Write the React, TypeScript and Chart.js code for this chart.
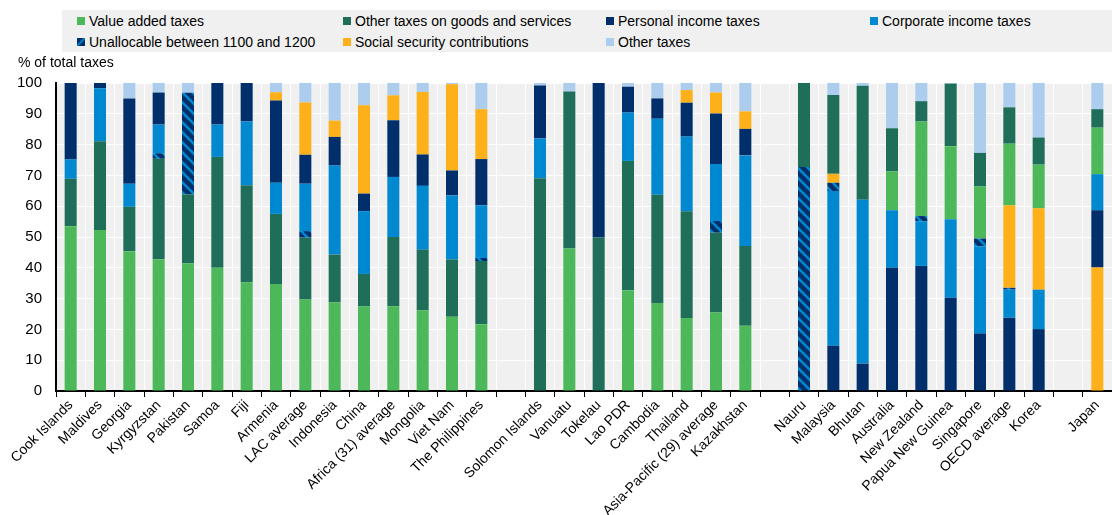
import React, { useEffect, useRef } from 'react';
import { Chart, registerables } from 'chart.js';

Chart.register(...registerables);

const FONT = "'Liberation Sans', Arial, Helvetica, sans-serif";

const categories = [
  'Cook Islands', 'Maldives', 'Georgia', 'Kyrgyzstan', 'Pakistan', 'Samoa', 'Fiji', 'Armenia',
  'LAC average', 'Indonesia', 'China', 'Africa (31) average', 'Mongolia', 'Viet Nam', 'The Philippines',
  '',
  'Solomon Islands', 'Vanuatu', 'Tokelau', 'Lao PDR', 'Cambodia', 'Thailand', 'Asia-Pacific (29) average', 'Kazakhstan',
  '',
  'Nauru', 'Malaysia', 'Bhutan', 'Australia', 'New Zealand', 'Papua New Guinea', 'Singapore', 'OECD average', 'Korea',
  '',
  'Japan',
];

// stacking-order group of each category
const stackGroup = [
  'A', 'A', 'A', 'A', 'A', 'A', 'A', 'A', 'A', 'A', 'A', 'A', 'A', 'A', 'A',
  '',
  'A', 'A', 'A', 'A', 'A', 'A', 'A', 'A',
  '',
  'B', 'B', 'B', 'B', 'B', 'B', 'B', 'B', 'B',
  '',
  'C',
];

const valueAdded = [53.5, 52.3, 45.4, 42.8, 41.5, 40.0, 35.3, 34.7, 29.7, 28.8, 27.5, 27.5, 26.2, 24.1, 21.7, null,
  0, 46.3, 0, 32.7, 28.6, 23.7, 25.5, 21.2, null,
  0, 0, 0, 12.6, 30.7, 23.7, 16.9, 20.0, 14.2, null, 15.1];

const otherGoods = [15.4, 28.8, 14.4, 32.6, 22.3, 36.0, 31.5, 22.8, 20.1, 15.5, 10.5, 22.5, 19.7, 18.6, 20.5, null,
  69.1, 50.9, 49.8, 42.0, 35.1, 34.7, 25.9, 25.9, null,
  27.3, 25.6, 37.0, 14.0, 6.6, 20.3, 10.9, 11.8, 8.8, null, 6.0];

const unallocable = [0, 0, 0, 1.8, 33.0, 0, 0, 0, 2.1, 0, 0, 0, 0, 0, 1.0, null,
  0, 0, 0, 0, 0, 0, 3.8, 0, null,
  72.7, 2.7, 0, 0, 1.7, 0, 2.5, 0.6, 0, null, 0];

const corporate = [6.3, 17.2, 7.5, 9.3, 0, 10.5, 20.7, 10.1, 15.4, 28.9, 20.4, 19.5, 20.7, 20.8, 17.1, null,
  12.9, 0, 0, 15.7, 24.7, 24.2, 18.5, 29.4, null,
  0, 50.2, 53.2, 18.7, 14.5, 25.5, 28.3, 9.1, 12.8, null, 11.7];

const personal = [24.8, 1.7, 27.7, 10.4, 0, 13.5, 12.5, 26.7, 9.4, 9.3, 5.7, 18.4, 10.2, 8.1, 15.0, null,
  17.2, 0, 50.2, 8.4, 6.6, 11.0, 16.4, 8.6, null,
  0, 14.7, 8.9, 40.0, 40.6, 30.3, 18.7, 23.8, 20.1, null, 18.6];

const socialSecurity = [0, 0, 0, 0, 0, 0, 0, 2.7, 17.0, 5.3, 28.7, 8.1, 20.3, 28.0, 16.2, null,
  0, 0, 0, 0, 0, 4.1, 6.8, 5.7, null,
  0, 2.9, 0, 0, 0, 0, 0, 26.8, 26.4, null, 40.1];

const otherTaxes = [0, 0, 5.0, 3.1, 3.2, 0, 0, 3.0, 6.3, 12.2, 7.2, 4.0, 2.9, 0.4, 8.5, null,
  0.8, 2.8, 0, 1.2, 5.0, 2.3, 3.1, 9.2, null,
  0, 3.9, 0.9, 14.7, 5.9, 0.2, 22.7, 7.9, 17.7, null, 8.5];

const yTicks = [0, 10, 20, 30, 40, 50, 60, 70, 80, 90, 100];

const GREEN = '#4cb85a';
const DKGREEN = '#1f6e59';
const NAVY = '#002f6c';
const BLUE = '#0089d1';
const ORANGE = '#fdb019';
const LIGHT = '#adcdee';
const BG = '#f0f0f0';

const legendItems = [
  { label: 'Value added taxes', color: GREEN, x: 77, y: 21 },
  { label: 'Other taxes on goods and services', color: DKGREEN, x: 343, y: 21 },
  { label: 'Personal income taxes', color: NAVY, x: 606, y: 21 },
  { label: 'Corporate income taxes', color: BLUE, x: 870, y: 21 },
  { label: 'Unallocable between 1100 and 1200', color: 'hatch', x: 77, y: 42 },
  { label: 'Social security contributions', color: ORANGE, x: 343, y: 42 },
  { label: 'Other taxes', color: LIGHT, x: 606, y: 42 },
];

function makeHatch(): CanvasPattern | string {
  const c = document.createElement('canvas');
  const s = 10;
  c.width = s;
  c.height = s;
  const g = c.getContext('2d');
  if (!g) return NAVY;
  g.fillStyle = NAVY;
  g.fillRect(0, 0, s, s);
  g.strokeStyle = BLUE;
  g.lineWidth = 2.6;
  g.beginPath();
  g.moveTo(-s, 0); g.lineTo(s, 2 * s);
  g.moveTo(0, 0); g.lineTo(s, s);
  g.moveTo(0, -s); g.lineTo(2 * s, s);
  g.stroke();
  return g.createPattern(c, 'repeat') || NAVY;
}

const mask = (arr: (number | null)[], groups: string[]) =>
  arr.map((v, i) => (groups.includes(stackGroup[i]) ? v : null));

const bgPlugin = {
  id: 'bgPlugin',
  beforeDraw(chart: any) {
    const { ctx, chartArea } = chart;
    if (!chartArea) return;
    ctx.save();
    ctx.fillStyle = BG;
    ctx.fillRect(chartArea.left, chartArea.top, chart.width - chartArea.left, chartArea.bottom - chartArea.top);
    ctx.restore();
  },
};

export default function App() {
  const ref = useRef<HTMLCanvasElement | null>(null);

  useEffect(() => {
    if (!ref.current) return;
    const hatch = makeHatch();
    const mk = (label: string, data: (number | null)[], color: any) => ({
      label,
      data,
      backgroundColor: color,
      borderWidth: 0,
      stack: 'all',
      categoryPercentage: 1,
      barPercentage: 0.41,
    });
    const datasets = [
      mk('Social security contributions', mask(socialSecurity, ['C']), ORANGE),
      mk('Personal income taxes', mask(personal, ['B', 'C']), NAVY),
      mk('Corporate income taxes', mask(corporate, ['B', 'C']), BLUE),
      mk('Unallocable between 1100 and 1200', mask(unallocable, ['B']), hatch),
      mk('Social security contributions', mask(socialSecurity, ['B']), ORANGE),
      mk('Value added taxes', mask(valueAdded, ['A', 'B', 'C']), GREEN),
      mk('Other taxes on goods and services', mask(otherGoods, ['A', 'B', 'C']), DKGREEN),
      mk('Unallocable between 1100 and 1200', mask(unallocable, ['A']), hatch),
      mk('Corporate income taxes', mask(corporate, ['A']), BLUE),
      mk('Personal income taxes', mask(personal, ['A']), NAVY),
      mk('Social security contributions', mask(socialSecurity, ['A']), ORANGE),
      mk('Other taxes', mask(otherTaxes, ['A', 'B', 'C']), LIGHT),
    ];

    const chart = new Chart(ref.current, {
      type: 'bar',
      data: { labels: categories, datasets: datasets as any },
      plugins: [bgPlugin],
      options: {
        animation: false,
        responsive: false,
        maintainAspectRatio: false,
        layout: { padding: { top: 83, left: 0, right: 0, bottom: 0 } },
        plugins: {
          legend: { display: false },
          tooltip: { enabled: false },
        },
        scales: {
          x: {
            stacked: true,
            grid: {
              offset: true,
              color: '#ffffff',
              lineWidth: 1,
              tickColor: '#000000',
              tickLength: 6,
              drawTicks: true,
            },
            border: { display: true, color: '#000000', width: 2 },
            ticks: {
              autoSkip: false,
              maxRotation: 45,
              minRotation: 45,
              color: '#000000',
              padding: 0,
              font: { family: FONT, size: 14 },
            },
            afterFit(scale: any) {
              scale.height = 124;
              scale.paddingLeft = 0;
              scale.paddingRight = 0;
            },
          },
          y: {
            stacked: true,
            min: 0,
            max: 100,
            afterBuildTicks(scale: any) {
              scale.ticks = yTicks.map((v) => ({ value: v }));
            },
            grid: { color: '#ffffff', lineWidth: 1, drawTicks: false },
            border: { display: true, color: '#000000', width: 2 },
            ticks: {
              color: '#000000',
              padding: 14,
              font: { family: FONT, size: 15 },
            },
            afterFit(scale: any) {
              scale.width = 56;
            },
          },
        },
      },
    });
    return () => chart.destroy();
  }, []);

  return (
    <div style={{ position: 'fixed', left: 0, top: 0, width: 1112, height: 515, background: '#fff', fontFamily: FONT, overflow: 'hidden' }}>
      <canvas ref={ref} width={1112} height={515} style={{ position: 'absolute', left: 0, top: 0, display: 'block' }} />
      <div style={{ position: 'absolute', left: 62, top: 10, width: 1050, height: 42, background: BG }} />
      {legendItems.map((it) => (
        <div key={it.label} style={{ position: 'absolute', left: it.x, top: it.y - 9, height: 18, display: 'flex', alignItems: 'center', whiteSpace: 'nowrap', fontSize: 14, color: '#000' }}>
          <span
            style={{
              display: 'inline-block',
              width: 8,
              height: 8,
              marginRight: 4,
              background: it.color === 'hatch' ? `linear-gradient(135deg, ${NAVY} 0%, ${NAVY} 35%, ${BLUE} 50%, ${NAVY} 65%, ${NAVY} 100%)` : it.color,
            }}
          />
          <span>{it.label}</span>
        </div>
      ))}
      <div style={{ position: 'absolute', left: 18, top: 53, fontSize: 14, color: '#000', whiteSpace: 'nowrap', lineHeight: '18px' }}>% of total taxes</div>
    </div>
  );
}
